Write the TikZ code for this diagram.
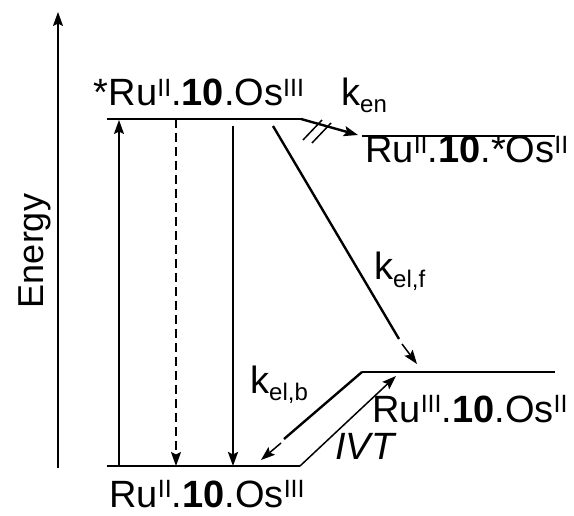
\documentclass[tikz,border=0pt]{standalone}
\usepackage{fontspec}
\setmainfont{Liberation Sans}
\usetikzlibrary{arrows.meta}
\newcommand\myup[1]{\raisebox{9.3pt}{\fontsize{25}{25}\selectfont #1}}
\newcommand\mysub[1]{\raisebox{-7pt}{\fontsize{24}{24}\selectfont #1}}
\tikzset{
  lbl/.style={inner sep=0pt, font=\fontsize{38}{40}\selectfont},
  lvl/.style={line width=2pt},
  tip/.style={-{Stealth[length=14pt,width=10pt,inset=2.5pt]}},
  thickarr/.style={line width=2.4pt},
  thinarr/.style={line width=1.5pt},
}
\begin{document}
\begin{tikzpicture}[x=1pt,y=-1pt]
\useasboundingbox (0,0) rectangle (574,516);
% energy axis
\coordinate (eb) at (58,468);
\coordinate (et) at (58,12);
\draw[thinarr,tip] (eb) -- (et);
\node[lbl,rotate=90,font=\fontsize{36}{40}\selectfont] (energy) at (35,251) {Energy};
% levels
\coordinate (tA) at (107,119); \coordinate (tB) at (301,119);
\coordinate (rA) at (362,136); \coordinate (rB) at (555,136);
\coordinate (mA) at (362,372); \coordinate (mB) at (555,372);
\coordinate (bA) at (107,466); \coordinate (bB) at (300,466);
\draw[lvl] (tA) -- (tB);
\draw[lvl] (rA) -- (rB);
\draw[lvl] (mA) -- (mB);
\draw[lvl] (bA) -- (bB);
% labels
\node[lbl,anchor=base] (top) at (199,106) {*Ru\myup{II}.\textbf{10}.Os\myup{III}};
\node[lbl,anchor=base west] (ken) at (341,106) {k\mysub{en}};
\node[lbl,anchor=base west] (rlab) at (365,163) {Ru\myup{II}.\textbf{10}.*Os\myup{II}};
\node[lbl,anchor=base west] (kelf) at (374,280) {k\mysub{el,f}};
\node[lbl,anchor=base west] (mlab) at (372,422) {Ru\myup{III}.\textbf{10}.Os\myup{II}};
\node[lbl,anchor=base west] (kelb) at (250,393) {k\mysub{el,b}};
\node[lbl,anchor=base west] (ivt) at (335,460) {\itshape IVT};
\node[lbl,anchor=base] (bot) at (207,507) {Ru\myup{II}.\textbf{10}.Os\myup{III}};
% vertical arrows
\coordinate (u1) at (119,466); \coordinate (u2) at (119,120);
\draw[thinarr,tip] (u1) -- (u2);
\coordinate (d1) at (176,119); \coordinate (d2) at (176,466);
\draw[thinarr,tip,dash pattern=on 9pt off 5pt] (d1) -- (d2);
\coordinate (s1) at (233,126); \coordinate (s2) at (233,466);
\draw[thickarr,tip] (s1) -- (s2);
% k_el,f
\coordinate (f1) at (273,126); \coordinate (f2) at (399,339);
\coordinate (f3) at (402,344); \coordinate (f4) at (417,364);
\draw[thickarr] (f1) -- (f2);
\draw[thinarr,tip] (f3) -- (f4);
% k_el,b
\coordinate (b2) at (284,439);
\coordinate (b3) at (281,443); \coordinate (b4) at (261,460);
\draw[thickarr] (mA) -- (b2);
\draw[thinarr,tip] (b3) -- (b4);
% IVT
\coordinate (i2) at (396,376);
\draw[thinarr,tip] (bB) -- (i2);
% k_en
\coordinate (n2) at (358,135);
\draw[thickarr,tip] (tB) -- (n2);
\coordinate (h1a) at (303,140); \coordinate (h1b) at (322,120);
\coordinate (h2a) at (312,143); \coordinate (h2b) at (331,123);
\draw[line width=1.5pt] (h1a) -- (h1b);
\draw[line width=1.5pt] (h2a) -- (h2b);
\end{tikzpicture}
\end{document}
